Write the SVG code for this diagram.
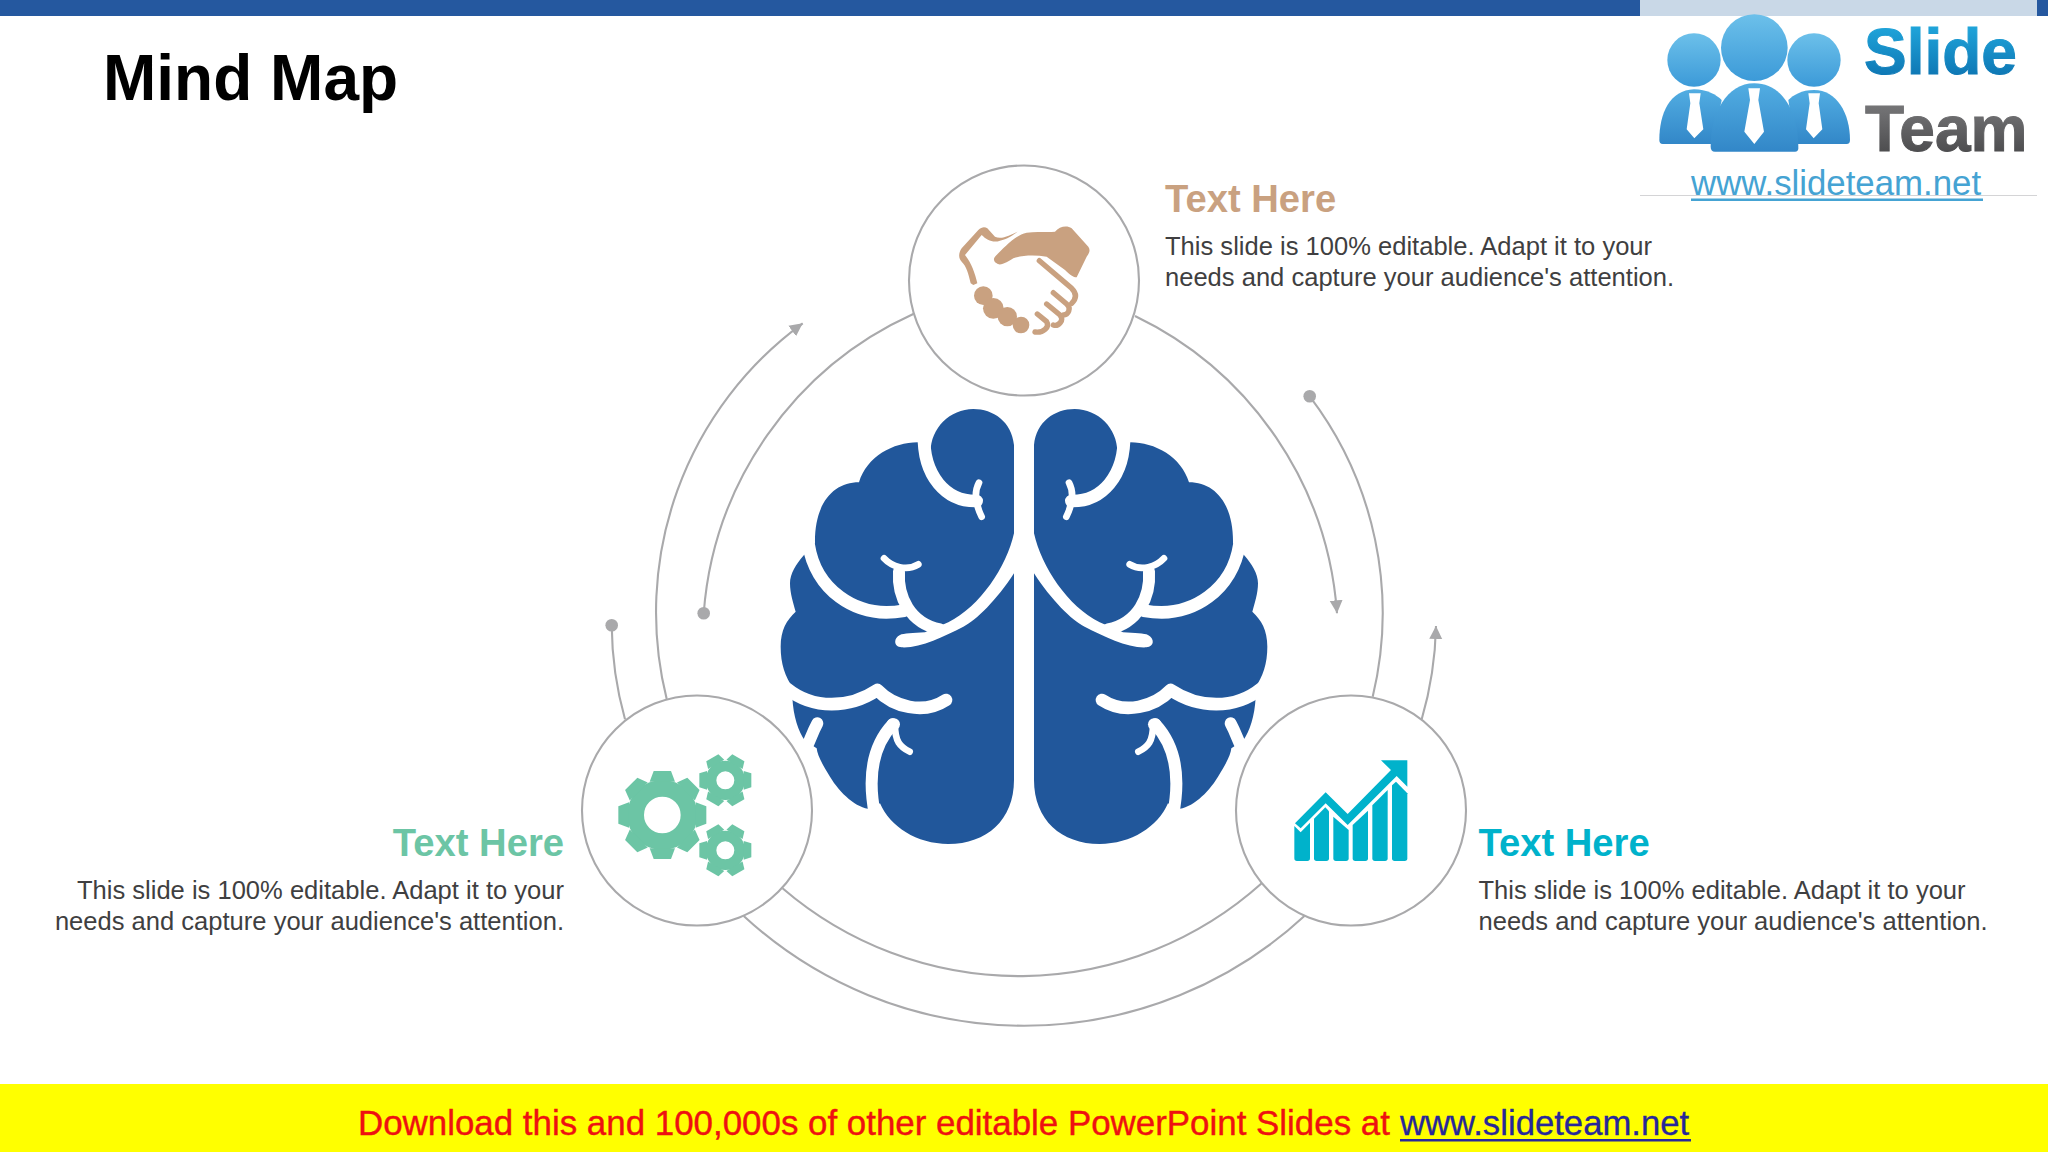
<svg xmlns="http://www.w3.org/2000/svg" xmlns:xlink="http://www.w3.org/1999/xlink" width="2048" height="1152" viewBox="0 0 2048 1152">
<style>
text{font-family:"Liberation Sans",Arial,sans-serif}
.ring{fill:#fff;stroke:#a9a9ab;stroke-width:2.1}
.arc{fill:none;stroke:#a9a9ab;stroke-width:2.1}
.dot{fill:#a9a9ab}
.head{font-size:38.2px;font-weight:700}
.body{font-size:25.55px;fill:#3f3f41}
.cut{fill:none;stroke:#fff;stroke-linecap:round;stroke-linejoin:round}
.brainfill{fill:#21579b}
</style>
<defs>
<marker id="arrow" markerUnits="userSpaceOnUse" markerWidth="14" markerHeight="14" refX="13" refY="7" orient="auto"><path d="M0 0.5L13 7L0 13.5Z" fill="#a9a9ab"/></marker>
<linearGradient id="gHead" x1="0" y1="0" x2="0" y2="1"><stop offset="0" stop-color="#6cc0ea"/><stop offset="1" stop-color="#3c9ad8"/></linearGradient>
<linearGradient id="gBody" x1="0" y1="0" x2="0" y2="1"><stop offset="0" stop-color="#52ade2"/><stop offset="1" stop-color="#3287c8"/></linearGradient>
<linearGradient id="gSlide" x1="0" y1="0" x2="0" y2="1"><stop offset="0" stop-color="#23aee2"/><stop offset="1" stop-color="#0a6cab"/></linearGradient>
<linearGradient id="gTeam" x1="0" y1="0" x2="0" y2="1"><stop offset="0" stop-color="#808082"/><stop offset="1" stop-color="#434345"/></linearGradient>
<g id="halfBrain">
<path class="brainfill" d="M762 165L762 1170C762 1290 680 1362 565 1362C470 1362 390 1310 360 1240L332 1257C290 1255 240 1210 210 1160C185 1120 172 1095 170 1075L135 1052C115 1025 100 980 97 922L100 895C75 860 62 820 62 770C62 720 80 690 107 665C100 640 90 610 90 580C90 550 110 520 130 497L165 460C163 340 220 277 297 277C320 200 400 157 473 157L512 185C512 115 570 57 640 57C700 57 755 95 762 165Z"/>
<path class="cut" stroke-width="38" stroke-linecap="butt" d="M492 130C488 260 560 335 650 333"/>
<path class="cut" stroke-width="20" d="M657 278C640 310 650 350 665 380"/>
<path class="cut" stroke-width="38" stroke-linecap="butt" d="M146 465C165 590 280 690 432 662"/>
<path class="cut" stroke-width="36" d="M417 545C412 620 450 700 540 718"/>
<path class="cut" stroke-width="20" d="M372 505C395 530 440 545 475 523"/>
<path fill="#fff" d="M775 425L762 430C740 530 660 650 565 697L495 727C460 730 430 730 420 735C400 745 400 770 425 772C480 775 550 740 610 710C650 690 710 630 762 550L775 550Z"/>
<path class="cut" stroke-width="38" d="M80 895C160 960 270 955 352 900C400 950 490 975 558 930"/>
<path class="cut" stroke-width="36" d="M172 1000C150 1040 150 1060 130 1085"/>
<path class="cut" stroke-width="36" stroke-linecap="butt" d="M398 1003C345 1060 320 1150 345 1275"/>
<path class="cut" stroke-width="36" d="M398 1003L402 1003"/>
<path class="cut" stroke-width="20" d="M405 1005C405 1055 420 1070 449 1085"/>
</g>
<path id="toothBig" d="M100 -38L132 -26L132 26L100 38Z" fill="#6cc5a5"/>
<path id="toothSmall" d="M55 -28L78 -21L78 21L55 28Z" fill="#6cc5a5"/>
<g id="smallGear">
<circle r="43" fill="none" stroke="#6cc5a5" stroke-width="32"/>
<use xlink:href="#toothSmall"/><use xlink:href="#toothSmall" transform="rotate(60)"/><use xlink:href="#toothSmall" transform="rotate(120)"/><use xlink:href="#toothSmall" transform="rotate(180)"/><use xlink:href="#toothSmall" transform="rotate(240)"/><use xlink:href="#toothSmall" transform="rotate(300)"/>
</g>
</defs>
<rect width="2048" height="1152" fill="#fff"/>
<rect id="topbar" width="2048" height="16" fill="#25589f"/>
<text id="title" x="103" y="100" font-size="64" font-weight="700" fill="#000">Mind Map</text>

<g id="connectors">
<path class="arc" marker-end="url(#arrow)" d="M666.7 699A358 358 0 0 1 802.7 323.3"/>
<path class="arc" d="M703.7 613.3A358 358 0 0 1 913.3 314"/>
<circle class="dot" cx="703.7" cy="613.3" r="6.3"/>
<path class="arc" d="M611.7 625.3A360 360 0 0 0 625 719.3"/>
<circle class="dot" cx="611.7" cy="625.3" r="6.3"/>
<path class="arc" marker-end="url(#arrow)" d="M1135 316A358 358 0 0 1 1337 613.3"/>
<path class="arc" d="M1309.7 396.3A358 358 0 0 1 1372.7 696.7"/>
<circle class="dot" cx="1309.7" cy="396.3" r="6.3"/>
<path class="arc" marker-end="url(#arrow)" d="M1421.7 719.3A360 360 0 0 0 1436 626"/>
<path class="arc" d="M782.5 888.3A363 363 0 0 0 1261.7 883.3"/>
<path class="arc" d="M743.7 916A413 413 0 0 0 1304.4 916"/>
</g>

<g id="brain" transform="translate(760 390) scale(.33333)">
<use xlink:href="#halfBrain"/>
<use xlink:href="#halfBrain" transform="translate(1584 0) scale(-1 1)"/>
</g>

<g id="node-top">
<circle class="ring" cx="1024" cy="280.5" r="115"/>
<g transform="translate(900 160) scale(.33333)" fill="#c9a180">
<path d="M285 290C310 265 345 225 380 218C410 213 440 218 465 215C478 200 500 195 515 205L565 260C572 270 568 280 560 290L530 352C520 352 510 345 495 330L440 290C405 285 370 285 340 295C325 305 300 320 290 310C280 305 280 295 285 290Z"/>
<path d="M353 215C330 225 305 240 285 230L262 205C255 200 245 200 235 210L185 265C175 280 175 295 185 305C200 320 205 340 212 370L220 375L232 370C225 340 215 310 195 285L245 225C260 240 280 250 300 242C320 238 340 225 353 215Z"/>
<g fill="none" stroke="#c9a180" stroke-width="16" stroke-linecap="round" stroke-linejoin="round">
<path d="M418 302L515 385C530 400 530 415 515 430"/>
<path d="M460 398L500 432C515 445 505 465 490 465"/>
<path d="M440 432L480 465C495 480 475 500 460 495"/>
<path d="M412 462L440 485C450 500 430 520 405 516"/>
</g>
<circle cx="250" cy="407" r="28"/><circle cx="280" cy="445" r="31"/><circle cx="322" cy="470" r="29"/><circle cx="363" cy="495" r="25"/>
</g>
<text class="head" x="1165" y="212" fill="#c9a180">Text Here</text>
<text class="body" x="1165" y="254.7">This slide is 100% editable. Adapt it to your</text>
<text class="body" x="1165" y="285.5">needs and capture your audience's attention.</text>
</g>

<g id="node-left">
<circle class="ring" cx="697" cy="810.5" r="115"/>
<g transform="translate(580 690) scale(.33333)">
<g transform="translate(247 375)">
<circle r="80" fill="none" stroke="#6cc5a5" stroke-width="50"/>
<use xlink:href="#toothBig"/><use xlink:href="#toothBig" transform="rotate(45)"/><use xlink:href="#toothBig" transform="rotate(90)"/><use xlink:href="#toothBig" transform="rotate(135)"/><use xlink:href="#toothBig" transform="rotate(180)"/><use xlink:href="#toothBig" transform="rotate(225)"/><use xlink:href="#toothBig" transform="rotate(270)"/><use xlink:href="#toothBig" transform="rotate(315)"/>
</g>
<use xlink:href="#smallGear" transform="translate(436 271)"/>
<use xlink:href="#smallGear" transform="translate(436 481)"/>
</g>
<text class="head" x="564" y="856" text-anchor="end" fill="#6cc5a5">Text Here</text>
<text class="body" x="564" y="898.7" text-anchor="end">This slide is 100% editable. Adapt it to your</text>
<text class="body" x="564" y="929.5" text-anchor="end">needs and capture your audience's attention.</text>
</g>

<g id="node-right">
<circle class="ring" cx="1351" cy="810.5" r="115"/>
<g transform="translate(1230 690) scale(.33333)" fill="#00b2cb">
<path d="M195 400L287 307L353 372L483 240L453 211L532 211L532 290L500 258L353 405L287 340L212 415Z"/>
<path d="M193 408L212 427L240 398L240 505Q240 513 232 513L201 513Q193 513 193 505Z"/>
<path d="M252 386L286 352L297 364L297 505Q297 513 289 513L260 513Q252 513 252 505Z"/>
<path d="M310 380L356 420L356 505Q356 513 348 513L318 513Q310 513 310 505Z"/>
<path d="M368 405L414 362L414 505Q414 513 406 513L376 513Q368 513 368 505Z"/>
<path d="M427 346L473 300L473 505Q473 513 465 513L435 513Q427 513 427 505Z"/>
<path d="M486 286L498 275L532 310L532 505Q532 513 524 513L494 513Q486 513 486 505Z"/>
</g>
<text class="head" x="1478.5" y="856" fill="#00b2cb">Text Here</text>
<text class="body" x="1478.5" y="898.7">This slide is 100% editable. Adapt it to your</text>
<text class="body" x="1478.5" y="929.5">needs and capture your audience's attention.</text>
</g>

<g id="logo">
<rect x="1640" y="0" width="397" height="16" fill="#c9d8e7"/>
<rect x="1638" y="16" width="400" height="179" fill="#fff"/>
<rect x="1640" y="195" width="397" height="1" fill="#d4d4d6"/>
<g transform="translate(1620 0) scale(.33333)">
<circle cx="222" cy="180" r="80" fill="url(#gHead)"/>
<circle cx="582" cy="180" r="80" fill="url(#gHead)"/>
<path d="M118 420C118 340 150 270 222 268C260 268 290 285 305 300L280 432L128 432Q118 432 118 420Z" fill="url(#gBody)"/>
<path d="M690 420C690 340 650 270 582 270C545 270 520 285 505 300L525 432L680 432Q690 432 690 420Z" fill="url(#gBody)"/>
<circle cx="403" cy="143" r="100" fill="url(#gHead)"/>
<path d="M272 440C272 340 320 250 403 250C490 250 535 340 535 445Q535 455 525 455L285 455Q272 455 272 440Z" fill="url(#gBody)"/>
<g fill="#fff">
<path d="M385 265L420 265L415 300L432 395L403 432L373 395L390 300Z"/>
<path d="M207 280L242 280L238 310L250 388L223 415L200 388L211 310Z"/>
<path d="M565 280L600 280L596 310L607 388L581 415L558 388L569 310Z"/>
</g>
</g>
<text x="1864" y="74" font-size="64" font-weight="700" fill="url(#gSlide)" stroke="url(#gSlide)" stroke-width="1">Slide</text>
<text x="1865" y="150.5" font-size="64" font-weight="700" fill="url(#gTeam)" stroke="url(#gTeam)" stroke-width="1">Team</text>
<text x="1691" y="195" font-size="34.8" fill="#45a3d3">www.slideteam.net</text>
<rect x="1691" y="198.5" width="292" height="2.5" fill="#45a3d3"/>
</g>

<g id="footer">
<rect y="1084" width="2048" height="68" fill="#ff0"/>
<text x="358" y="1135" font-size="34.9" fill="#ee1111" stroke="#ee1111" stroke-width=".4">Download this and 100,000s of other editable PowerPoint Slides at</text>
<text x="1400" y="1135" font-size="34.7" fill="#27279a" stroke="#27279a" stroke-width=".3">www.slideteam.net</text>
<rect x="1400" y="1139" width="291" height="2.5" fill="#27279a"/>
</g>
</svg>
